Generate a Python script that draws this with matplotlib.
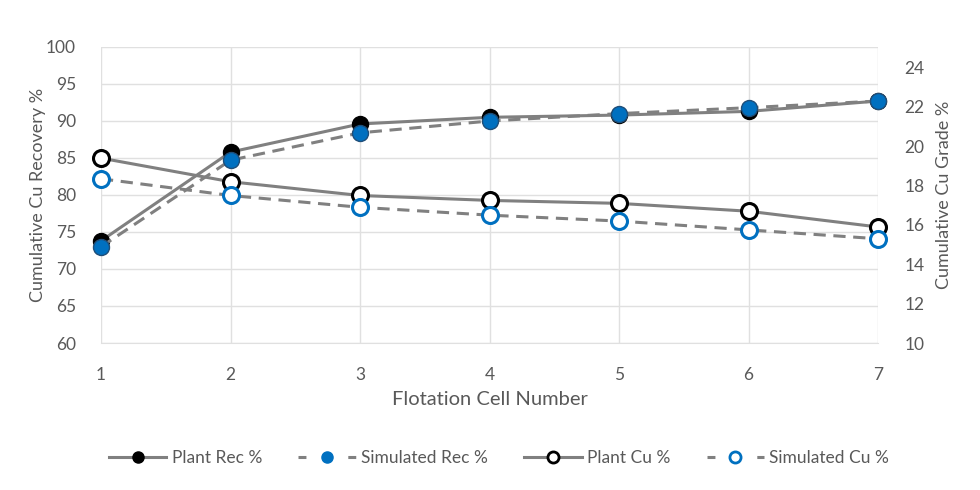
import matplotlib
matplotlib.use("Agg")
import matplotlib.pyplot as plt
from matplotlib.lines import Line2D

plt.rcParams['font.family'] = ['Lato', 'DejaVu Sans']

cells = [1, 2, 3, 4, 5, 6, 7]
plant_rec = [73.8, 85.8, 89.6, 90.5, 90.8, 91.3, 92.7]
sim_rec = [73.0, 84.7, 88.4, 90.0, 91.0, 91.8, 92.7]
plant_cu = [19.4, 18.2, 17.5, 17.25, 17.1, 16.7, 15.9]
sim_cu = [18.35, 17.5, 16.9, 16.5, 16.2, 15.75, 15.3]

grey = '#808080'
blue = '#0070C0'
dark_blue = '#1F4E79'
txt = '#595959'
grid = '#E0E0E0'

fig = plt.figure(figsize=(9.8, 4.9), dpi=100)
ax = fig.add_axes([101/980, 1 - 343/490, (878-101)/980, (343-47)/490])
ax2 = ax.twinx()

ms = 11.5
ax.plot(cells, plant_rec, color=grey, lw=2.2, marker='o', ms=ms,
        mfc='black', mec='black', zorder=3, clip_on=False)
ax.plot(cells, sim_rec, color=grey, lw=2.2, ls=(0, (4, 2.5)), marker='o', ms=ms,
        mfc=blue, mec=dark_blue, mew=1, zorder=4, clip_on=False)
ax2.plot(cells, plant_cu, color=grey, lw=2.2, marker='o', ms=ms,
         mfc='white', mec='black', mew=2.2, zorder=3, clip_on=False)
ax2.plot(cells, sim_cu, color=grey, lw=2.2, ls=(0, (4, 2.5)), marker='o', ms=ms,
         mfc='white', mec=blue, mew=2.2, zorder=4, clip_on=False)

ax.set_xlim(1, 7)
ax.set_ylim(60, 100)
ax.set_yticks(range(60, 101, 5))
ax.set_xticks(cells)
ax2.set_ylim(10, 25.05)
ax2.set_yticks(range(10, 25, 2))

ax.grid(True, color=grid, lw=1)
ax.set_axisbelow(True)
for a in (ax, ax2):
    for s in a.spines.values():
        s.set_visible(False)
    a.tick_params(length=0, labelsize=12.5, colors=txt)
ax.spines['bottom'].set_visible(True)
ax.spines['bottom'].set_color(grid)
ax.tick_params(axis='y', pad=18)
ax2.tick_params(axis='y', pad=19)
ax.tick_params(axis='x', pad=17)

ax.set_xlabel('Flotation Cell Number', fontsize=14.5, color=txt, labelpad=6)
ax.set_ylabel('Cumulative Cu Recovery %', fontsize=13, color=txt, labelpad=0)
ax2.set_ylabel('Cumulative Cu Grade %', fontsize=13, color=txt, labelpad=8)

leg_dash = (0, (2.6, 13.7))
handles = [
    Line2D([], [], color=grey, lw=2.2, marker='o', ms=8, mfc='black', mec='black'),
    Line2D([], [], color=grey, lw=2.2, ls=leg_dash, marker='o', ms=8, mfc=blue, mec=blue),
    Line2D([], [], color=grey, lw=2.2, marker='o', ms=8, mfc='white', mec='black', mew=2),
    Line2D([], [], color=grey, lw=2.2, ls=leg_dash, marker='o', ms=8, mfc='white', mec=blue, mew=2),
]
labels = ['Plant Rec %', 'Simulated Rec %', 'Plant Cu %', 'Simulated Cu %']
leg = fig.legend(handles, labels, loc='center', bbox_to_anchor=(499/980, 1 - 458/490),
                 ncol=4, frameon=False, fontsize=12.5, handlelength=3.3,
                 columnspacing=2.1, handletextpad=0.3)
for t in leg.get_texts():
    t.set_color(txt)

fig.savefig('out.png', dpi=100)
